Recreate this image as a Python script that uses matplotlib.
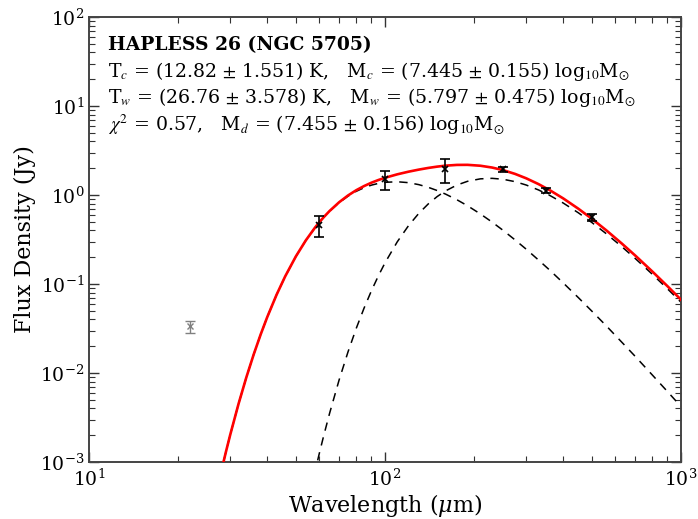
import numpy as np
import matplotlib
matplotlib.use("Agg")
import matplotlib.pyplot as plt

# ---- model curves ----
model_wavelength = [25, 27, 28, 29, 30, 32, 34, 36, 38, 40, 43, 46, 50, 54, 58, 60, 62, 65, 70, 75,
                    80, 85, 90, 95, 100, 110, 120, 130, 140, 150, 160, 175, 190, 210, 230, 250, 275,
                    300, 330, 360, 400, 450, 500, 560, 630, 700, 800, 900, 1000]
warm_flux = [0.0001398, 0.000468, 0.0007946, 0.001293, 0.002024, 0.004494, 0.008917, 0.01613,
             0.02701, 0.04241, 0.07546, 0.1217, 0.2044, 0.3085, 0.4289, 0.4931, 0.5589, 0.6585,
             0.821, 0.9706, 1.101, 1.208, 1.291, 1.35, 1.388, 1.409, 1.376, 1.308, 1.22, 1.123,
             1.025, 0.8841, 0.757, 0.6128, 0.4962, 0.4031, 0.313, 0.246, 0.186, 0.1433, 0.1029,
             0.0703, 0.0495, 0.0337, 0.0223, 0.0154, 0.0095, 0.00619, 0.0042]
cold_flux = [4.222e-13, 7.991e-12, 2.94e-11, 9.826e-11, 3.013e-10, 2.261e-09, 1.314e-08, 6.18e-08,
             2.433e-07, 8.243e-07, 4.066e-06, 1.592e-05, 7.39e-05, 0.0002652, 0.0007779, 0.001251,
             0.001942, 0.003536, 0.008379, 0.01728, 0.03189, 0.05375, 0.0841, 0.1237, 0.1728,
             0.2977, 0.4509, 0.6205, 0.7938, 0.9596, 1.11, 1.294, 1.425, 1.519, 1.539, 1.504,
             1.413, 1.294, 1.14, 0.9907, 0.8128, 0.6309, 0.4906, 0.3658, 0.2639, 0.1939, 0.1287,
             0.08832, 0.06242]
total_flux = [0.0001398, 0.000468, 0.0007946, 0.001293, 0.002024, 0.004494, 0.008917, 0.01613,
              0.02702, 0.04241, 0.07546, 0.1218, 0.2045, 0.3088, 0.4297, 0.4944, 0.5608, 0.662,
              0.8294, 0.9879, 1.133, 1.261, 1.375, 1.474, 1.561, 1.707, 1.827, 1.928, 2.014, 2.083,
              2.135, 2.178, 2.182, 2.132, 2.035, 1.907, 1.726, 1.54, 1.326, 1.134, 0.9157, 0.7012,
              0.5401, 0.3995, 0.2862, 0.2093, 0.1382, 0.09451, 0.06662]

# ---- photometry ----
band_wavelength = [60, 100, 160, 250, 350, 500]
band_flux = [0.46, 1.50, 1.95, 1.95, 1.12, 0.56]
band_error = [0.12, 0.35, 0.60, 0.14, 0.08, 0.05]

excluded_wavelength = [22]
excluded_flux = [0.0335]
excluded_error = [0.005]

title_text = "HAPLESS 26 (NGC 5705)"
info_lines = [
    r"T$_c$ = (12.82 $\pm$ 1.551) K,   M$_c$ = (7.445 $\pm$ 0.155) log$_{10}$M$_{\odot}$",
    r"T$_w$ = (26.76 $\pm$ 3.578) K,   M$_w$ = (5.797 $\pm$ 0.475) log$_{10}$M$_{\odot}$",
    r"$\chi^2$ = 0.57,   M$_d$ = (7.455 $\pm$ 0.156) log$_{10}$M$_{\odot}$",
]

plt.rcParams['font.family'] = ['DejaVu Serif']
plt.rcParams['mathtext.fontset'] = 'dejavuserif'

fig = plt.figure(figsize=(6.98, 5.19), dpi=100)
ax = fig.add_axes([89/698, 1 - 462/519, 592/698, 445/519])

ax.plot(model_wavelength, warm_flux, color='black', ls='--', lw=1.1, dashes=(5.5, 4.5), zorder=2)
ax.plot(model_wavelength, cold_flux, color='black', ls='--', lw=1.1, dashes=(5.5, 4.5), zorder=2)
ax.plot(model_wavelength, total_flux, color='red', lw=1.9, zorder=3)

ax.errorbar(band_wavelength, band_flux, yerr=band_error, fmt='x', color='black', ms=5,
            mew=1.2, elinewidth=1.2, capsize=3.5, capthick=1.2, zorder=4)
ax.errorbar(excluded_wavelength, excluded_flux, yerr=excluded_error, fmt='x', color='gray',
            ms=4, mew=1.0, elinewidth=1.0, capsize=3.5, capthick=1.0, zorder=4)

ax.set_xscale('log')
ax.set_yscale('log')
ax.set_xlim(10, 1000)
ax.set_ylim(1e-3, 1e2)

ax.tick_params(which='both', direction='in', top=True, right=True, colors='#333333',
               labelcolor='black', labelsize=13.5)
ax.tick_params(which='major', length=7, width=1)
ax.tick_params(which='minor', length=4, width=0.8)
ax.tick_params(axis='x', pad=5)
for s in ax.spines.values():
    s.set_color('#444444')
    s.set_linewidth(1.4)

ax.set_xlabel(r"Wavelength ($\mu$m)", fontsize=16, labelpad=1)
ax.set_ylabel("Flux Density (Jy)", fontsize=16, labelpad=3)

ax.text(0.032, 0.937, title_text, transform=ax.transAxes, fontsize=13.5,
        fontweight='bold', family='DejaVu Serif', va='center', ha='left')
ys = [0.878, 0.818, 0.757]
for y, line in zip(ys, info_lines):
    ax.text(0.032, y, line, transform=ax.transAxes, fontsize=13.6,
            family='DejaVu Serif', math_fontfamily='stix', va='center', ha='left')

fig.savefig('out.png', dpi=100)
